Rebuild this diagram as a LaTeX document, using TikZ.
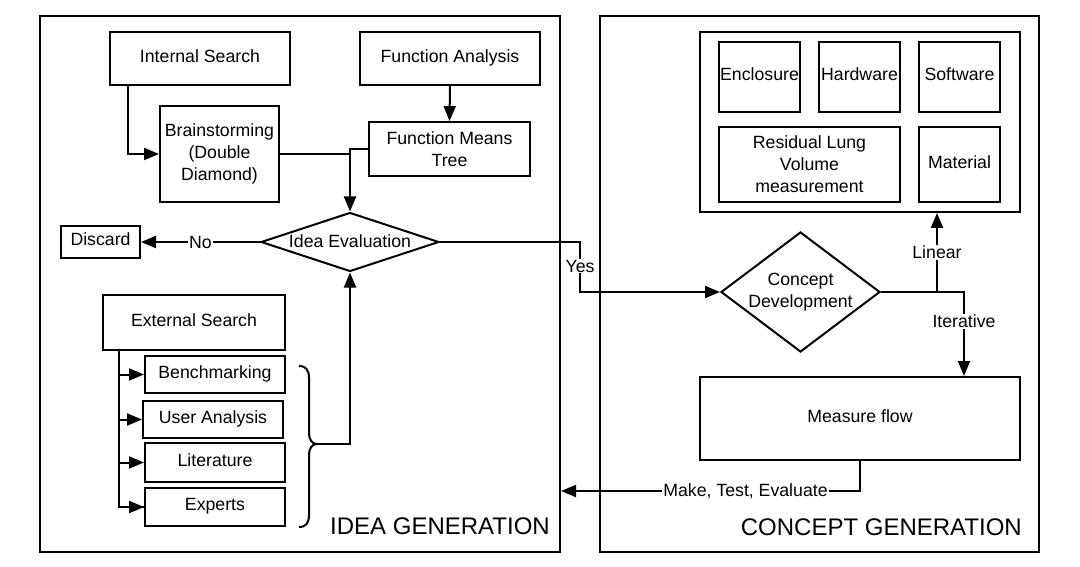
\documentclass[tikz,border=0pt]{standalone}
\usepackage{fontspec}
\setmainfont{Liberation Sans}
\usetikzlibrary{arrows.meta,shapes.geometric}
\begin{document}
\begin{tikzpicture}[x=1pt,y=-1pt,
  every node/.style={font=\fontsize{17.7pt}{22pt}\selectfont, text=black},
  box/.style={draw, line width=2pt, rectangle, inner sep=1pt, align=center},
  sl/.style={box, text height=12.7pt, text depth=5pt},
  dia/.style={draw, line width=2pt, diamond, inner sep=0pt},
  frame/.style={draw, line width=2pt, rectangle, inner sep=0pt},
  conn/.style={line width=2pt},
  arr/.style={conn, -{Triangle[length=15pt,width=12pt]}},
  lbl/.style={fill=white, inner sep=1pt},
  big/.style={font=\fontsize{24pt}{28pt}\selectfont}
]
\fill[white] (0,0) rectangle (1080,567);
\useasboundingbox (0,0) rectangle (1080,567);

% frames
\node[frame, minimum width=520pt, minimum height=536pt] (lf) at (300,284) {};
\node[frame, minimum width=439pt, minimum height=536pt] (rf) at (819.5,284) {};
\node[big, anchor=east, inner sep=0pt] (igl) at (550,526) {IDEA GENERATION};
\node[big, anchor=east, inner sep=0pt] (cgl) at (1022,527) {CONCEPT GENERATION};

% idea generation
\node[sl, minimum width=180pt, minimum height=53pt] (is) at (200,58.5) {Internal Search};
\node[sl, minimum width=180pt, minimum height=53pt] (fa) at (450,58.5) {Function Analysis};
\node[box, minimum width=119pt, minimum height=96pt] (bs) at (219.5,154) {Brainstorming\\(Double\\Diamond)};
\node[box, minimum width=161pt, minimum height=54pt] (fmt) at (449.5,149) {Function Means\\Tree};
\node[dia, minimum width=178pt, minimum height=59pt, label={[yshift=1pt]center:Idea Evaluation}] (ie) at (350,242) {};
\node[sl, minimum width=79pt, minimum height=32pt] (dis) at (100.5,242) {Discard};
\node[sl, minimum width=182pt, minimum height=55pt] (es) at (194,322.5) {External Search};
\node[sl, minimum width=140pt, minimum height=37pt] (bm) at (215,374.5) {Benchmarking};
\node[sl, minimum width=140pt, minimum height=37pt] (ua) at (213,419.5) {User Analysis};
\node[sl, minimum width=140pt, minimum height=39pt] (lit) at (215,462.5) {Literature};
\node[sl, minimum width=140pt, minimum height=38pt] (exp) at (215,507) {Experts};

% concept generation
\node[frame, minimum width=320pt, minimum height=180pt] (ib) at (860,122) {};
\node[sl, minimum width=81pt, minimum height=70pt] (enc) at (759.5,77) {Enclosure};
\node[sl, minimum width=81pt, minimum height=70pt] (hw) at (859.5,77) {Hardware};
\node[sl, minimum width=81pt, minimum height=70pt] (sw) at (959.5,77) {Software};
\node[box, minimum width=181pt, minimum height=75pt] (rlv) at (809.5,164.5) {Residual Lung\\Volume\\measurement};
\node[sl, minimum width=81pt, minimum height=75pt] (mat) at (959.5,164.5) {Material};
\node[dia, minimum width=159pt, minimum height=120pt, label={[align=center]center:Concept\\Development}] (cd) at (800.5,292) {};
\node[sl, minimum width=320pt, minimum height=83pt] (mf) at (860,418.5) {Measure flow};

% connectors, idea generation
\draw[arr] ([xshift=19pt]is.south west) |- (bs.west);
\draw[arr] (fa.south) -- (fmt.north);
\coordinate (j1) at (bs.east -| ie.north);
\draw[arr] (bs.east) -- (j1) -- (ie.north);
\draw[conn] (fmt.west) -| (j1);
\draw[arr] (ie.west) -- node[lbl]{No} (dis.east);

\coordinate (tr) at ([xshift=17pt]es.south west);
\draw[conn] (tr) |- (exp.west);
\draw[arr] (tr |- bm.west) -- (bm.west);
\draw[arr] (tr |- ua.west) -- (ua.west);
\draw[arr] (tr |- lit.west) -- (lit.west);
\draw[arr] (tr |- exp.west) -- (exp.west);

\coordinate (bt) at (317,444);
\draw[conn] (299,366) .. controls (306,366) and (309,370) .. (309,378) -- (309,432)
  .. controls (309,440) and (312,444) .. (bt)
  .. controls (312,444) and (309,448) .. (309,456) -- (309,515)
  .. controls (309,523) and (306,527) .. (299,527);
\draw[arr] (bt) -| (ie.south);

% yes
\coordinate (yc) at (580,266);
\draw[arr] (ie.east) -| (yc) |- (cd.west);
\node[lbl] (yl) at (yc) {Yes};

% concept generation connectors
\coordinate (ln) at (937,292);
\draw[arr] (ln) -- node[lbl]{Linear} (ln |- ib.south);
\coordinate (it) at (964,292);
\draw[arr] (cd.east) -- (it) -- node[lbl, pos=0.35]{Iterative} (it |- mf.north);
\coordinate (mt) at (860,491);
\draw[arr] (mf.south) -- (mt) -- node[lbl, pos=0.383]{Make, Test, Evaluate} (mt -| lf.east);
\end{tikzpicture}
\end{document}
